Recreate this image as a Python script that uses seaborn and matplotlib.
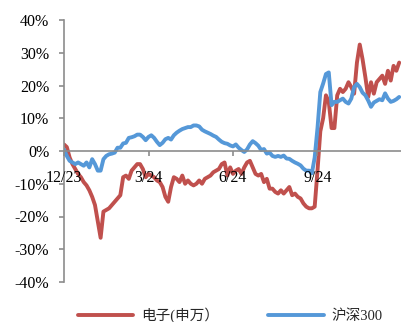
import numpy as np
import pandas as pd
import matplotlib
matplotlib.use('Agg')
import matplotlib.pyplot as plt
from matplotlib.lines import Line2D
import seaborn as sns

# trading-day index (every 2nd session), Dec 2023 -> Dec 2024
day = np.arange(0, 240, 2)

# cumulative return, %
elec = [2.0, 1.2, -2.0, -4.0, -5.5, -7.0, -8.0, -9.5, -10.5, -12.0,
        -14.0, -16.5, -21.5, -26.5, -18.5, -18.0, -17.5, -16.5, -15.5, -14.5,
        -13.5, -8.0, -7.5, -8.5, -6.0, -5.0, -4.0, -4.0, -5.5, -8.0,
        -7.0, -7.5, -8.0, -9.0, -9.5, -11.0, -14.0, -15.5, -11.0, -8.0,
        -8.5, -9.5, -7.5, -10.0, -9.0, -10.0, -10.5, -10.0, -9.0, -10.0,
        -8.5, -8.0, -7.5, -6.5, -6.0, -5.5, -4.0, -3.5, -7.5, -5.0,
        -7.0, -6.0, -5.5, -7.0, -5.0, -3.5, -3.0, -5.0, -7.0, -7.5,
        -7.0, -9.5, -8.5, -11.5, -11.5, -12.5, -13.0, -12.0, -13.0, -12.0,
        -11.0, -13.5, -13.0, -14.0, -14.5, -16.0, -17.0, -17.5, -17.5, -17.0,
        -6.0, 6.0, 10.0, 17.0, 15.0, 7.0, 7.0, 17.0, 19.0, 18.0,
        19.0, 21.0, 19.5, 17.5, 27.0, 32.5, 28.0, 22.5, 16.5, 21.0,
        17.5, 21.0, 22.0, 23.0, 20.5, 24.5, 21.5, 26.0, 24.5, 27.0]

hs300 = [0.5, -1.5, -3.0, -3.5, -4.0, -3.5, -4.0, -4.5, -3.5, -5.0,
         -2.5, -4.0, -6.0, -6.0, -2.5, -1.5, -1.0, -0.8, -0.5, 1.0,
         1.0, 2.3, 2.5, 4.0, 4.2, 4.5, 5.0, 5.0, 4.3, 3.3,
         4.3, 4.8, 4.0, 2.8, 1.8, 2.5, 3.6, 4.0, 3.5, 4.8,
         5.6, 6.2, 6.7, 7.0, 7.3, 7.3, 7.8, 7.8, 7.5, 6.5,
         6.0, 5.6, 5.2, 4.7, 4.3, 3.5, 2.8, 2.4, 2.2, 1.7,
         1.4, 2.0, 1.0, 0.3, -0.3, 0.5, 2.0, 3.0, 2.4, 1.6,
         0.3, 0.6, -0.8, -0.5, -1.5, -1.8, -1.5, -1.8, -1.4, -2.3,
         -2.4, -3.0, -3.5, -3.9, -4.4, -5.4, -6.0, -6.0, -6.8, -2.0,
         7.0, 18.0, 20.6, 23.5, 24.0, 14.0, 15.0, 15.0, 15.5, 16.0,
         15.0, 14.5, 16.0, 19.5, 20.5, 19.5, 17.8, 17.0, 15.4, 13.5,
         14.8, 15.3, 15.8, 15.5, 17.6, 16.0, 15.0, 15.3, 15.8, 16.5]

tick_days = [0, 60, 120, 180, 240]
tick_labels = ['12/23', '3/24', '6/24', '9/24', '']
names = ['电子(申万）', '沪深300']
colors = ['#C0504D', '#5598D8']

df = pd.DataFrame({
    'day': np.concatenate([day, day]),
    'ret': elec + hs300,
    'name': [names[0]] * len(day) + [names[1]] * len(day),
})

sns.set_theme(style='white')
plt.rcParams['font.family'] = ['Liberation Serif', 'Noto Sans CJK SC']

fig = plt.figure(figsize=(4.02, 3.22), dpi=100)
ax = fig.add_axes([64 / 402, 40 / 322, 338 / 402, 262 / 322])

sns.lineplot(data=df, x='day', y='ret', hue='name', palette=colors,
             linewidth=2.8, ax=ax, legend=False)

ax.set_xlim(0, 240)
ax.set_ylim(-40, 40)
ax.set_yticks(range(-40, 41, 10))
ax.set_yticklabels([f'{v}%' for v in range(-40, 41, 10)])
ax.set_xticks(tick_days)
ax.set_xticklabels(tick_labels)
ax.set_xlabel('')
ax.set_ylabel('')

grey = '#8C8C8C'
for s in ['top', 'right']:
    ax.spines[s].set_visible(False)
ax.spines['bottom'].set_position(('data', 0))
for s in ['left', 'bottom']:
    ax.spines[s].set_color(grey)
    ax.spines[s].set_linewidth(1.2)
ax.set_axisbelow(False)
ax.tick_params(axis='both', direction='out', length=3.6, width=1.2,
               color=grey, labelsize=11.5, labelcolor='black')
ax.tick_params(axis='y', pad=7, left=True)
ax.tick_params(axis='x', pad=10, bottom=True)

handles = [Line2D([], [], color=c, linewidth=2.8) for c in colors]
fig.legend(handles, names, loc='center left', bbox_to_anchor=(78 / 402, 7 / 322),
           ncol=2, frameon=False, handlelength=3.8, handletextpad=0.5,
           columnspacing=3.4, fontsize=10.5, borderpad=0, borderaxespad=0)

fig.savefig('out.png', dpi=100)
